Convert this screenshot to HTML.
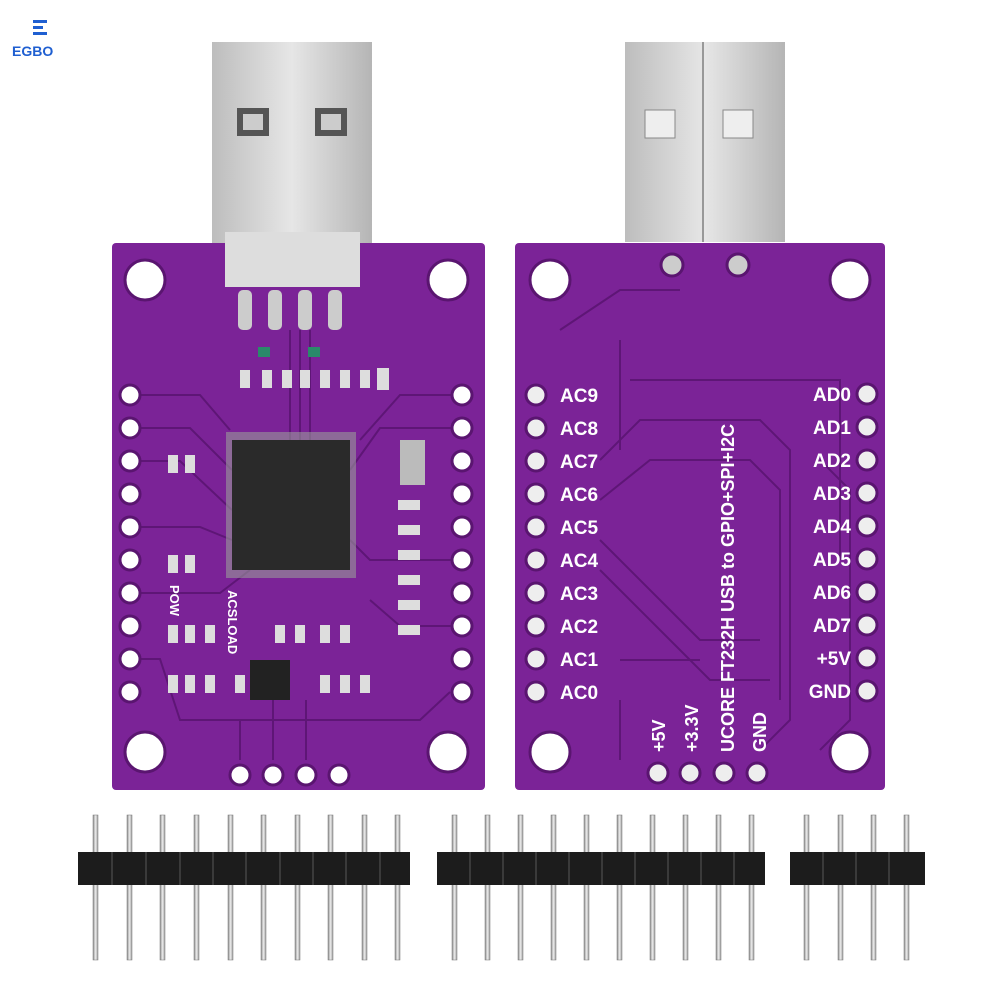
<!DOCTYPE html>
<html><head><meta charset="utf-8"><style>
html,body{margin:0;padding:0;background:#fff;}
svg{display:block}
text{font-family:"Liberation Sans",sans-serif;font-weight:bold;fill:#fff}
</style></head><body>
<svg width="1000" height="1000" viewBox="0 0 1000 1000" xmlns="http://www.w3.org/2000/svg">
<defs>
<linearGradient id="usb" x1="0" x2="1"><stop offset="0" stop-color="#bdbdbd"/><stop offset="0.5" stop-color="#e6e6e6"/><stop offset="1" stop-color="#b5b5b5"/></linearGradient>
<linearGradient id="pin" x1="0" x2="1"><stop offset="0" stop-color="#888"/><stop offset="0.5" stop-color="#eee"/><stop offset="1" stop-color="#999"/></linearGradient>
</defs>
<!-- logo -->
<rect x="33" y="20" width="14" height="3" fill="#1f5fd1"/>
<rect x="33" y="26" width="10" height="3" fill="#1f5fd1"/>
<rect x="33" y="32" width="14" height="3" fill="#1f5fd1"/>
<text x="12" y="56" font-size="14" style="fill:#1f5fd1">EGBO</text>

<!-- left USB -->
<rect x="212" y="42" width="160" height="205" fill="url(#usb)"/>
<rect x="237" y="108" width="32" height="28" fill="#555"/>
<rect x="315" y="108" width="32" height="28" fill="#555"/>
<rect x="243" y="114" width="20" height="16" fill="#ccc"/>
<rect x="321" y="114" width="20" height="16" fill="#ccc"/>
<!-- right USB -->
<rect x="625" y="42" width="160" height="200" fill="url(#usb)"/>
<line x1="703" y1="42" x2="703" y2="242" stroke="#999" stroke-width="2"/>
<rect x="645" y="110" width="30" height="28" fill="#eee" stroke="#888"/>
<rect x="723" y="110" width="30" height="28" fill="#eee" stroke="#888"/>

<!-- left board -->
<rect x="112" y="243" width="373" height="547" rx="4" fill="#7b2397"/>
<g stroke="#5e1676" stroke-width="2" fill="none">
<path d="M140 395 H200 L230 430"/><path d="M140 428 H190 L232 470"/><path d="M140 461 H180 L232 510"/>
<path d="M140 527 H200 L232 540"/><path d="M140 593 H220 L250 570"/><path d="M140 659 H160 L180 720 H420 L450 692"/>
<path d="M452 395 H400 L360 440"/><path d="M452 428 H380 L350 470"/><path d="M452 560 H370 L350 540"/>
<path d="M452 626 H400 L370 600"/><path d="M290 330 V440"/><path d="M300 330 V440"/><path d="M310 330 V440"/>
<path d="M240 760 V720"/><path d="M273 760 V700"/><path d="M306 760 V700"/>
</g>
<rect x="225" y="232" width="135" height="55" fill="#ddd"/>
<rect x="238" y="290" width="14" height="40" rx="5" fill="#ccc"/>
<rect x="268" y="290" width="14" height="40" rx="5" fill="#ccc"/>
<rect x="298" y="290" width="14" height="40" rx="5" fill="#ccc"/>
<rect x="328" y="290" width="14" height="40" rx="5" fill="#ccc"/>
<g fill="#ccc">
<rect x="226" y="432" width="130" height="146" fill="#999" opacity="0.6"/>
</g>
<rect x="232" y="440" width="118" height="130" fill="#2a2a2a"/>
<rect x="400" y="440" width="25" height="45" fill="#bbb"/>
<g fill="#ddd">
<rect x="240" y="370" width="10" height="18"/><rect x="262" y="370" width="10" height="18"/><rect x="282" y="370" width="10" height="18"/><rect x="300" y="370" width="10" height="18"/><rect x="320" y="370" width="10" height="18"/><rect x="340" y="370" width="10" height="18"/><rect x="360" y="370" width="10" height="18"/><rect x="377" y="368" width="12" height="22"/>
<rect x="258" y="347" width="12" height="10" fill="#2a8a6a"/><rect x="308" y="347" width="12" height="10" fill="#2a8a6a"/>
<rect x="398" y="500" width="22" height="10"/><rect x="398" y="525" width="22" height="10"/><rect x="398" y="550" width="22" height="10"/><rect x="398" y="575" width="22" height="10"/><rect x="398" y="600" width="22" height="10"/><rect x="398" y="625" width="22" height="10"/>
<rect x="168" y="455" width="10" height="18"/><rect x="185" y="455" width="10" height="18"/>
<rect x="168" y="555" width="10" height="18"/><rect x="185" y="555" width="10" height="18"/>
<rect x="168" y="625" width="10" height="18"/><rect x="185" y="625" width="10" height="18"/><rect x="205" y="625" width="10" height="18"/>
<rect x="168" y="675" width="10" height="18"/><rect x="185" y="675" width="10" height="18"/><rect x="205" y="675" width="10" height="18"/>
<rect x="275" y="625" width="10" height="18"/><rect x="295" y="625" width="10" height="18"/><rect x="320" y="625" width="10" height="18"/><rect x="340" y="625" width="10" height="18"/>
<rect x="235" y="675" width="10" height="18"/><rect x="320" y="675" width="10" height="18"/><rect x="340" y="675" width="10" height="18"/><rect x="360" y="675" width="10" height="18"/>
</g>
<rect x="250" y="660" width="40" height="40" fill="#222"/>
<text transform="translate(170,585) rotate(90)" font-size="13">POW</text>
<text transform="translate(228,590) rotate(90)" font-size="13">ACSLOAD</text>
<g fill="#fff" stroke="#5a1570" stroke-width="3">
<circle cx="145" cy="280" r="20"/><circle cx="448" cy="280" r="20"/>
<circle cx="145" cy="752" r="20"/><circle cx="448" cy="752" r="20"/>
</g>
<g fill="#fff" stroke="#5a1570" stroke-width="3">
<circle cx="130" cy="395" r="10"/><circle cx="130" cy="428" r="10"/><circle cx="130" cy="461" r="10"/><circle cx="130" cy="494" r="10"/><circle cx="130" cy="527" r="10"/><circle cx="130" cy="560" r="10"/><circle cx="130" cy="593" r="10"/><circle cx="130" cy="626" r="10"/><circle cx="130" cy="659" r="10"/><circle cx="130" cy="692" r="10"/>
<circle cx="462" cy="395" r="10"/><circle cx="462" cy="428" r="10"/><circle cx="462" cy="461" r="10"/><circle cx="462" cy="494" r="10"/><circle cx="462" cy="527" r="10"/><circle cx="462" cy="560" r="10"/><circle cx="462" cy="593" r="10"/><circle cx="462" cy="626" r="10"/><circle cx="462" cy="659" r="10"/><circle cx="462" cy="692" r="10"/>
<circle cx="240" cy="775" r="10"/><circle cx="273" cy="775" r="10"/><circle cx="306" cy="775" r="10"/><circle cx="339" cy="775" r="10"/>
</g>

<!-- right board -->
<rect x="515" y="243" width="370" height="547" rx="4" fill="#7b2397"/>
<g stroke="#5e1676" stroke-width="2" fill="none">
<path d="M560 330 L620 290 H680"/><path d="M620 340 V450"/><path d="M630 380 H840 V560"/>
<path d="M600 460 L640 420 H760 L790 450 V720 L760 750"/>
<path d="M600 500 L650 460 H750 L780 490 V700"/><path d="M600 540 L700 640 H760"/>
<path d="M600 570 L710 680 H770"/><path d="M620 660 H700"/><path d="M820 460 L850 490 V720 L820 750"/>
<path d="M620 700 V760"/>
</g>
<g fill="#ccc" stroke="#5a1570" stroke-width="3"><circle cx="672" cy="265" r="11"/><circle cx="738" cy="265" r="11"/></g>
<g fill="#fff" stroke="#5a1570" stroke-width="3">
<circle cx="550" cy="280" r="20"/><circle cx="850" cy="280" r="20"/>
<circle cx="550" cy="752" r="20"/><circle cx="850" cy="752" r="20"/>
</g>
<g fill="#eee" stroke="#5a1570" stroke-width="3">
<circle cx="536" cy="395" r="10"/><circle cx="536" cy="428" r="10"/><circle cx="536" cy="461" r="10"/><circle cx="536" cy="494" r="10"/><circle cx="536" cy="527" r="10"/><circle cx="536" cy="560" r="10"/><circle cx="536" cy="593" r="10"/><circle cx="536" cy="626" r="10"/><circle cx="536" cy="659" r="10"/><circle cx="536" cy="692" r="10"/>
<circle cx="867" cy="394" r="10"/><circle cx="867" cy="427" r="10"/><circle cx="867" cy="460" r="10"/><circle cx="867" cy="493" r="10"/><circle cx="867" cy="526" r="10"/><circle cx="867" cy="559" r="10"/><circle cx="867" cy="592" r="10"/><circle cx="867" cy="625" r="10"/><circle cx="867" cy="658" r="10"/><circle cx="867" cy="691" r="10"/>
<circle cx="658" cy="773" r="10"/><circle cx="690" cy="773" r="10"/><circle cx="724" cy="773" r="10"/><circle cx="757" cy="773" r="10"/>
</g>
<g font-size="19">
<text x="560" y="402">AC9</text><text x="560" y="435">AC8</text><text x="560" y="468">AC7</text><text x="560" y="501">AC6</text><text x="560" y="534">AC5</text><text x="560" y="567">AC4</text><text x="560" y="600">AC3</text><text x="560" y="633">AC2</text><text x="560" y="666">AC1</text><text x="560" y="699">AC0</text>
</g>
<g font-size="19" text-anchor="end">
<text x="851" y="401">AD0</text><text x="851" y="434">AD1</text><text x="851" y="467">AD2</text><text x="851" y="500">AD3</text><text x="851" y="533">AD4</text><text x="851" y="566">AD5</text><text x="851" y="599">AD6</text><text x="851" y="632">AD7</text><text x="851" y="665">+5V</text><text x="851" y="698">GND</text>
</g>
<g font-size="18">
<text transform="translate(734,752) rotate(-90)">UCORE FT232H USB to GPIO+SPI+I2C</text>
<text transform="translate(665,752) rotate(-90)">+5V</text>
<text transform="translate(698,752) rotate(-90)">+3.3V</text>
<text transform="translate(766,752) rotate(-90)">GND</text>
</g>

<!-- headers -->
<g fill="url(#pin)" stroke="#777" stroke-width="0.5">
<rect x="93" y="815" width="5" height="145"/><rect x="127" y="815" width="5" height="145"/><rect x="160" y="815" width="5" height="145"/><rect x="194" y="815" width="5" height="145"/><rect x="228" y="815" width="5" height="145"/><rect x="261" y="815" width="5" height="145"/><rect x="295" y="815" width="5" height="145"/><rect x="328" y="815" width="5" height="145"/><rect x="362" y="815" width="5" height="145"/><rect x="395" y="815" width="5" height="145"/>
<rect x="452" y="815" width="5" height="145"/><rect x="485" y="815" width="5" height="145"/><rect x="518" y="815" width="5" height="145"/><rect x="551" y="815" width="5" height="145"/><rect x="584" y="815" width="5" height="145"/><rect x="617" y="815" width="5" height="145"/><rect x="650" y="815" width="5" height="145"/><rect x="683" y="815" width="5" height="145"/><rect x="716" y="815" width="5" height="145"/><rect x="749" y="815" width="5" height="145"/>
<rect x="804" y="815" width="5" height="145"/><rect x="838" y="815" width="5" height="145"/><rect x="871" y="815" width="5" height="145"/><rect x="904" y="815" width="5" height="145"/>
</g>
<rect x="78" y="852" width="332" height="33" fill="#1c1c1c"/>
<rect x="437" y="852" width="328" height="33" fill="#1c1c1c"/>
<rect x="790" y="852" width="135" height="33" fill="#1c1c1c"/>
<g stroke="#444" stroke-width="1.5">
<line x1="112" y1="852" x2="112" y2="885"/><line x1="146" y1="852" x2="146" y2="885"/><line x1="180" y1="852" x2="180" y2="885"/><line x1="213" y1="852" x2="213" y2="885"/><line x1="246" y1="852" x2="246" y2="885"/><line x1="280" y1="852" x2="280" y2="885"/><line x1="313" y1="852" x2="313" y2="885"/><line x1="346" y1="852" x2="346" y2="885"/><line x1="380" y1="852" x2="380" y2="885"/>
<line x1="470" y1="852" x2="470" y2="885"/><line x1="503" y1="852" x2="503" y2="885"/><line x1="536" y1="852" x2="536" y2="885"/><line x1="569" y1="852" x2="569" y2="885"/><line x1="602" y1="852" x2="602" y2="885"/><line x1="635" y1="852" x2="635" y2="885"/><line x1="668" y1="852" x2="668" y2="885"/><line x1="701" y1="852" x2="701" y2="885"/><line x1="734" y1="852" x2="734" y2="885"/>
<line x1="823" y1="852" x2="823" y2="885"/><line x1="856" y1="852" x2="856" y2="885"/><line x1="889" y1="852" x2="889" y2="885"/>
</g>
</svg>
</body></html>
